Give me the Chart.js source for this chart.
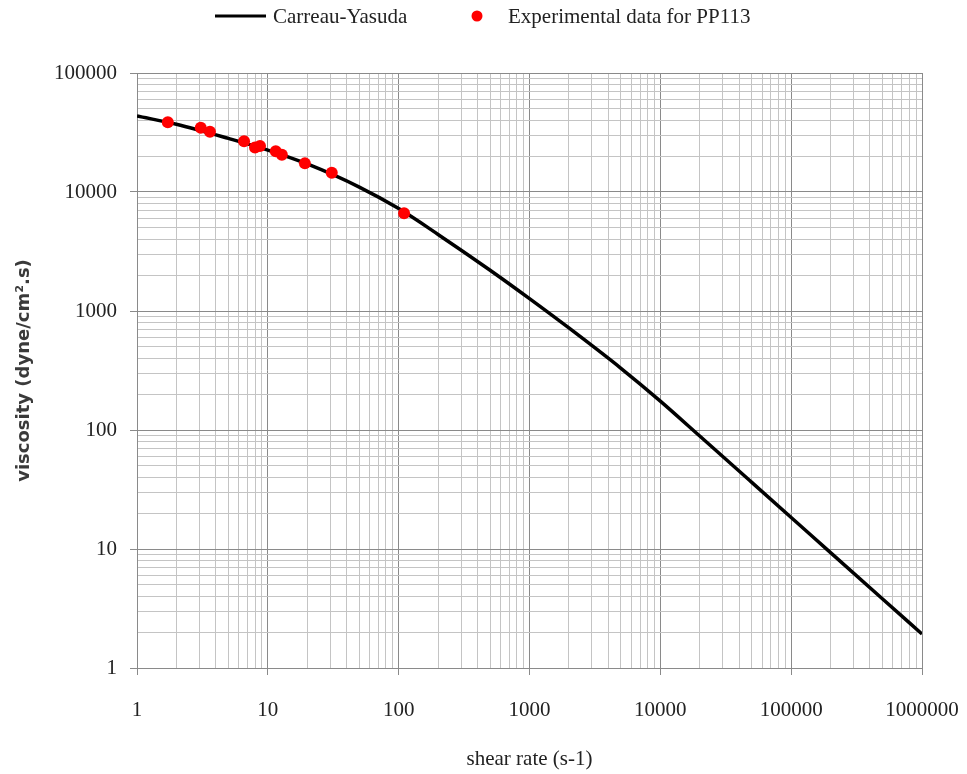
<!DOCTYPE html>
<html>
<head>
<meta charset="utf-8">
<script src="https://cdn.jsdelivr.net/npm/chart.js@4/dist/chart.umd.min.js"></script>
<style>
  html, body { margin: 0; padding: 0; background: #fff; }
  canvas { display: block; }
</style>
</head>
<body>
<canvas id="viscosidad" width="967" height="774"></canvas>
<script>
// Curva Carreau-Yasuda (shear rate, viscosity)
const curveRate = [1, 2, 5, 10, 20, 50, 100, 200, 500, 1000, 2000, 5000, 10000, 20000, 50000, 100000, 200000, 500000, 1000000];
const curveVisc = [43600, 37100, 28200, 22500, 17200, 11000, 7250, 4400, 2200, 1270, 720, 330, 175, 89, 36.3, 18.4, 9.32, 3.8, 1.93];

// Datos experimentales PP113
const expRate = [1.72, 3.07, 3.61, 6.58, 7.98, 8.71, 11.5, 12.8, 19.2, 30.8, 110];
const expVisc = [38500, 34700, 32100, 26700, 23700, 24350, 22000, 20600, 17400, 14500, 6620];

// Decadas con etiqueta
const xDecades = [1, 10, 100, 1000, 10000, 100000, 1000000];
const yDecades = [1, 10, 100, 1000, 10000, 100000];

const legendLabels = ["Carreau-Yasuda", "Experimental data for PP113"];
const xTitle = "shear rate (s-1)";
const yTitle = "viscosity (dyne/cm\u00b2.s)";

const serif = '"Liberation Serif", "Times New Roman", serif';

// ticks 1..9 por decada
function logTicks(decades) {
  const out = [];
  decades.forEach((d, i) => {
    if (i === decades.length - 1) { out.push({ value: d }); return; }
    for (let k = 1; k <= 9; k++) out.push({ value: k * d });
  });
  return out;
}

const isMajor = v => Math.abs(Math.log10(v) - Math.round(Math.log10(v))) < 1e-9;

const curveData = curveRate.map((x, i) => ({ x, y: curveVisc[i] }));
const expData = expRate.map((x, i) => ({ x, y: expVisc[i] }));

function gridStyle() {
  return {
    color: c => (c.tick && isMajor(c.tick.value)) ? "#8a8a8a" : "#c4c4c4",
    tickColor: c => (c.tick && isMajor(c.tick.value)) ? "#8a8a8a" : "rgba(0,0,0,0)",
    lineWidth: 1,
    tickLength: 7
  };
}

// leyenda dibujada a mano (linea larga + punto)
const leyenda = {
  id: "leyenda",
  afterDraw(chart) {
    const ctx = chart.ctx;
    ctx.save();
    ctx.strokeStyle = "#000";
    ctx.lineWidth = 3;
    ctx.beginPath();
    ctx.moveTo(215, 16);
    ctx.lineTo(266, 16);
    ctx.stroke();
    ctx.fillStyle = "#ff0000";
    ctx.beginPath();
    ctx.arc(477, 16, 5.5, 0, Math.PI * 2);
    ctx.fill();
    ctx.fillStyle = "#222";
    ctx.font = "21px " + serif;
    ctx.textBaseline = "middle";
    ctx.textAlign = "left";
    ctx.fillText(legendLabels[0], 273, 17);
    ctx.fillText(legendLabels[1], 508, 17);
    ctx.restore();
  }
};

new Chart(document.getElementById("viscosidad"), {
  type: "scatter",
  data: {
    datasets: [
      {
        label: legendLabels[1],
        data: expData,
        backgroundColor: "#ff0000",
        borderColor: "#ff0000",
        pointRadius: 6,
        pointBorderWidth: 0,
        order: 0
      },
      {
        label: legendLabels[0],
        type: "line",
        data: curveData,
        borderColor: "#000",
        borderWidth: 3.5,
        pointRadius: 0,
        cubicInterpolationMode: "monotone",
        fill: false,
        order: 1
      }
    ]
  },
  options: {
    responsive: false,
    animation: false,
    layout: { padding: { top: 73, right: 45, bottom: 0, left: 0 } },
    plugins: {
      legend: { display: false },
      tooltip: { enabled: false }
    },
    scales: {
      x: {
        type: "logarithmic",
        min: 1,
        max: 1000000,
        afterBuildTicks: s => { s.ticks = logTicks(xDecades); },
        afterFit: s => { s.height = 106; s.paddingLeft = 0; s.paddingRight = 0; },
        grid: gridStyle(),
        border: { color: "#8a8a8a" },
        ticks: {
          autoSkip: false,
          maxRotation: 0,
          padding: 23,
          color: "#222",
          font: { family: serif, size: 21 },
          callback: v => isMajor(v) ? String(Math.round(v)) : ""
        },
        title: {
          display: true,
          text: xTitle,
          color: "#222",
          font: { family: serif, size: 21 },
          padding: { top: 0, bottom: 2 }
        }
      },
      y: {
        type: "logarithmic",
        min: 1,
        max: 100000,
        afterBuildTicks: s => { s.ticks = logTicks(yDecades); },
        afterFit: s => { s.width = 137; s.paddingTop = 0; s.paddingBottom = 0; },
        grid: gridStyle(),
        border: { color: "#8a8a8a" },
        ticks: {
          autoSkip: false,
          padding: 13,
          color: "#222",
          font: { family: serif, size: 21 },
          callback: v => isMajor(v) ? String(Math.round(v)) : ""
        },
        title: {
          display: true,
          text: yTitle,
          color: "#3a3a3a",
          font: { family: '"DejaVu Sans", sans-serif', size: 18, weight: "bold" },
          padding: { top: 14, bottom: 0 }
        }
      }
    }
  },
  plugins: [leyenda]
});
</script>
</body>
</html>
